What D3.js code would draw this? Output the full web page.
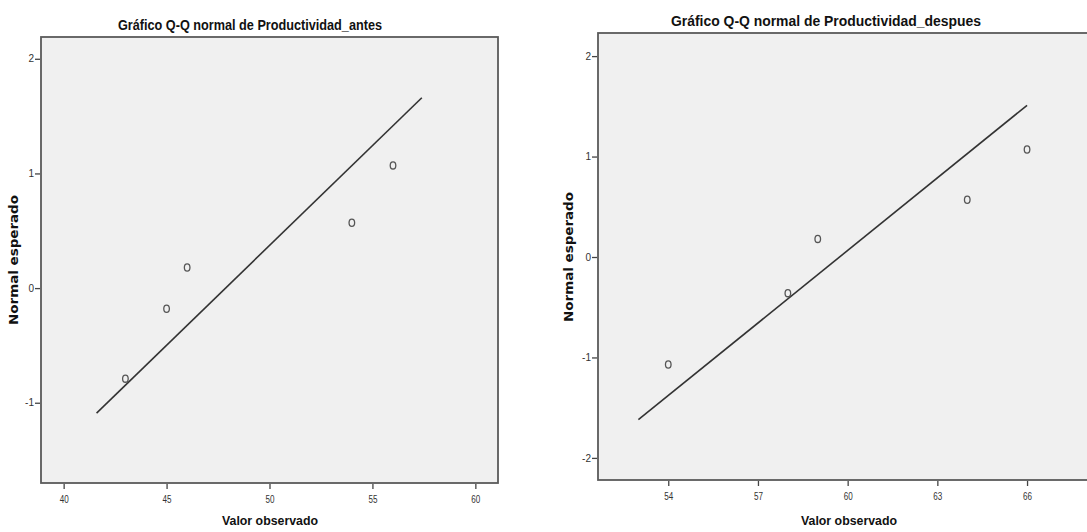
<!DOCTYPE html>
<html>
<head>
<meta charset="utf-8">
<script src="https://cdn.jsdelivr.net/npm/d3@7"></script>
<style>
  body { margin: 0; background: #fff; }
  svg { display: block; }
  .tick text { font-family: "Liberation Sans Narrow", "Arial Narrow", "Liberation Sans", sans-serif; font-size: 10px; fill: #333; }
  .tick line { stroke: #444; stroke-width: 1.3; }
</style>
</head>
<body>
<div id="chart"></div>
<script>
// values
var antesObserved = [43, 45, 46, 54, 56];
var antesExpected = [-0.79, -0.18, 0.18, 0.57, 1.07];
var antesLineX = [41.6, 57.4];
var antesLineY = [-1.09, 1.66];
var antesTicksX = [40, 45, 50, 55, 60];
var antesTicksY = [-1, 0, 1, 2];

var despuesObserved = [54, 58, 59, 64, 66];
var despuesExpected = [-1.07, -0.36, 0.18, 0.57, 1.07];
var despuesLineX = [53.0, 66.0];
var despuesLineY = [-1.62, 1.51];
var despuesTicksX = [54, 57, 60, 63, 66];
var despuesTicksY = [-2, -1, 0, 1, 2];

var titles = ["Gráfico Q-Q normal de Productividad_antes", "Gráfico Q-Q normal de Productividad_despues"];
var xTitle = "Valor observado";
var yTitle = "Normal esperado";

var width = 1087, height = 532;
var svg = d3.select("#chart").append("svg")
  .attr("width", width)
  .attr("height", height);

// SPSS prints a plain hyphen for negatives
var plainFormat = function(d) { return String(d); };

function drawPlot(cfg) {
  var g = svg.append("g");

  var x = d3.scaleLinear().domain(cfg.xDomain).range([cfg.box.left, cfg.box.right]);
  var y = d3.scaleLinear().domain(cfg.yDomain).range([cfg.box.bottom, cfg.box.top]);

  // plot background + frame
  g.append("rect")
    .attr("x", cfg.box.left)
    .attr("y", cfg.box.top)
    .attr("width", cfg.box.right - cfg.box.left)
    .attr("height", cfg.box.bottom - cfg.box.top)
    .style("fill", "#f0f0f0")
    .style("stroke", "#5a5a5a")
    .style("stroke-width", 1.8);

  // X axis
  var xAxis = g.append("g")
    .attr("transform", "translate(0," + (cfg.box.bottom + 1) + ")")
    .call(d3.axisBottom(x).tickValues(cfg.ticksX).tickFormat(plainFormat)
      .tickSize(5).tickSizeOuter(0).tickPadding(7));
  xAxis.select(".domain").remove();
  xAxis.selectAll(".tick text").attr("textLength", 9).attr("lengthAdjust", "spacingAndGlyphs");

  // Y axis
  var yAxis = g.append("g")
    .attr("transform", "translate(" + (cfg.box.left - 1) + ",0)")
    .call(d3.axisLeft(y).tickValues(cfg.ticksY).tickFormat(plainFormat)
      .tickSize(5).tickSizeOuter(0).tickPadding(1));
  yAxis.select(".domain").remove();

  // reference line
  var lineData = cfg.lineX.map(function(d, i) { return [d, cfg.lineY[i]]; });
  g.append("path")
    .datum(lineData)
    .attr("d", d3.line().x(function(d) { return x(d[0]); }).y(function(d) { return y(d[1]); }))
    .style("fill", "none")
    .style("stroke", "#333")
    .style("stroke-width", 1.6);

  // observed points
  g.selectAll(".pt")
    .data(cfg.observed)
    .enter()
    .append("ellipse")
    .attr("class", "pt")
    .attr("cx", function(d) { return x(d); })
    .attr("cy", function(d, i) { return y(cfg.expected[i]); })
    .attr("rx", 2.8)
    .attr("ry", 3.6)
    .style("fill", "none")
    .style("stroke", "#555")
    .style("stroke-width", 1.3);

  // title
  g.append("text")
    .attr("x", cfg.titleX)
    .attr("y", cfg.titleY)
    .attr("text-anchor", "middle")
    .attr("textLength", cfg.titleLen)
    .attr("lengthAdjust", "spacingAndGlyphs")
    .style("font-family", "'Liberation Sans Narrow', 'Arial Narrow', 'Liberation Sans', sans-serif")
    .style("font-weight", "bold")
    .style("font-size", "14px")
    .style("fill", "#111")
    .text(cfg.title);

  // x axis title
  g.append("text")
    .attr("x", cfg.xTitleX)
    .attr("y", 525)
    .attr("text-anchor", "middle")
    .attr("textLength", 96)
    .attr("lengthAdjust", "spacingAndGlyphs")
    .style("font-family", "'Liberation Sans Narrow', 'Arial Narrow', 'Liberation Sans', sans-serif")
    .style("font-weight", "bold")
    .style("font-size", "13px")
    .style("fill", "#111")
    .text(xTitle);

  // y axis title
  g.append("text")
    .attr("transform", "translate(" + cfg.yTitleX + "," + cfg.yTitleY + ") rotate(-90)")
    .attr("text-anchor", "middle")
    .attr("dy", "0.35em")
    .attr("textLength", 130)
    .attr("lengthAdjust", "spacingAndGlyphs")
    .style("font-family", "'DejaVu Sans', sans-serif")
    .style("font-weight", "bold")
    .style("font-size", "13px")
    .style("fill", "#111")
    .text(yTitle);
}

drawPlot({
  box: { left: 41, right: 498, top: 37, bottom: 483 },
  xDomain: [38.9, 61.1],
  yDomain: [-1.70, 2.19],
  ticksX: antesTicksX,
  ticksY: antesTicksY,
  observed: antesObserved,
  expected: antesExpected,
  lineX: antesLineX,
  lineY: antesLineY,
  title: titles[0],
  titleX: 250, titleY: 30, titleLen: 264,
  xTitleX: 270,
  yTitleX: 13, yTitleY: 260
});

drawPlot({
  box: { left: 598, right: 1100, top: 33, bottom: 480 },
  xDomain: [51.65, 68.44],
  yDomain: [-2.22, 2.23],
  ticksX: despuesTicksX,
  ticksY: despuesTicksY,
  observed: despuesObserved,
  expected: despuesExpected,
  lineX: despuesLineX,
  lineY: despuesLineY,
  title: titles[1],
  titleX: 826, titleY: 26, titleLen: 310,
  xTitleX: 849,
  yTitleX: 568, yTitleY: 257
});
</script>
</body>
</html>
